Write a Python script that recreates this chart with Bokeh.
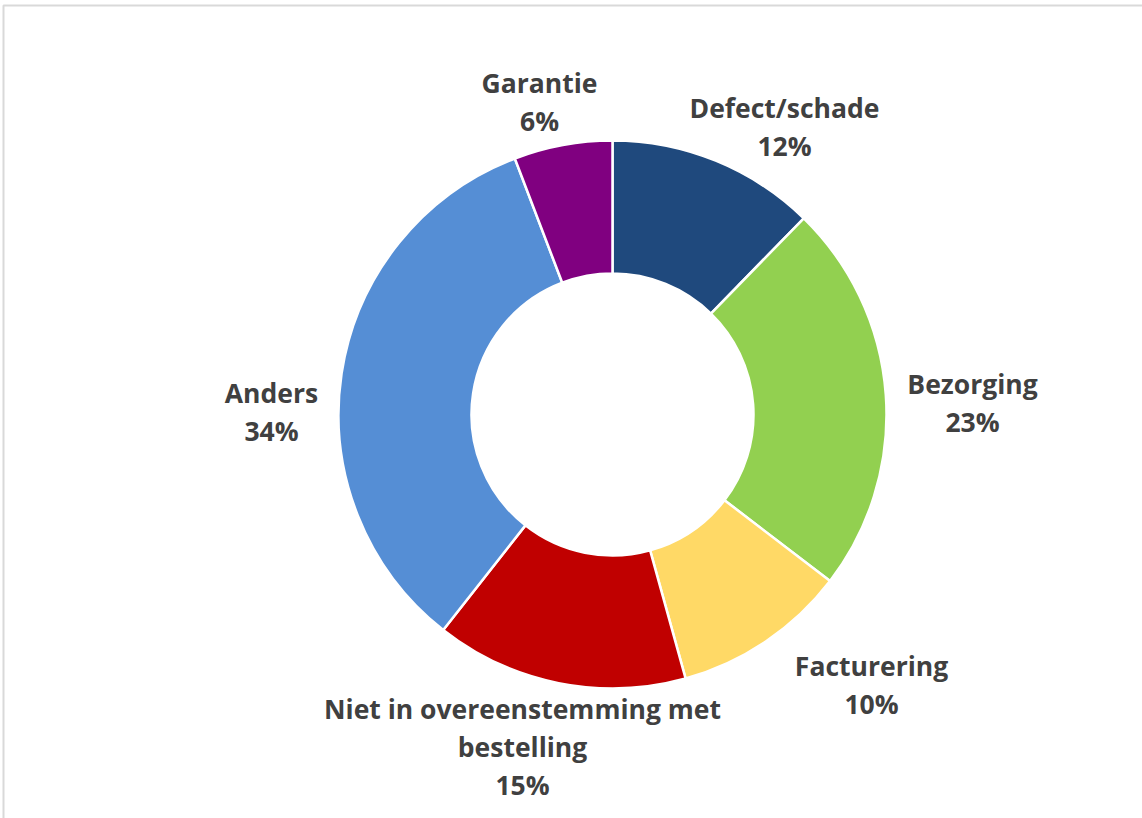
import math
from bokeh.plotting import figure
from bokeh.models import Range1d, ColumnDataSource
from bokeh.core.properties import value
from bokeh.embed import file_html
from bokeh.resources import INLINE

# ---- data ----
categories = ["Defect/schade", "Bezorging", "Facturering",
              "Niet in overeenstemming met\nbestelling", "Anders", "Garantie"]
shares = [12.3, 23.1, 10.3, 14.9, 33.6, 5.8]
pct_labels = ["12%", "23%", "10%", "15%", "34%", "6%"]
colors = ["#1F497D", "#92D050", "#FFD966", "#C00000", "#558ED5", "#800080"]

# ---- layout ----
W, H = 1142, 818
CX, CY = 612, H - 414
R_OUT, R_IN = 274, 141
# label anchor (pixel x, pixel y of first line centre) chosen as in the original
label_pos = [(784, 107), (972, 383), (871, 665), (522, 708), (271, 392), (539, 82)]
LINE_H = 38

total = sum(shares)
starts, ends = [], []
cum = 0.0
for s in shares:
    a0 = math.pi / 2 - 2 * math.pi * cum / total
    cum += s
    a1 = math.pi / 2 - 2 * math.pi * cum / total
    starts.append(a0)
    ends.append(a1)

p = figure(width=W, height=H, output_backend="svg", toolbar_location=None,
           x_range=Range1d(0, W), y_range=Range1d(0, H),
           min_border=0, min_border_left=0, min_border_right=0,
           min_border_top=0, min_border_bottom=0)
p.axis.visible = False
p.xgrid.visible = False
p.ygrid.visible = False
p.outline_line_color = None
p.background_fill_color = "white"
p.border_fill_color = "white"

# chart-area frame (only left and top edges are inside the window)
p.line(x=[3, 3, W + 10], y=[-10, H - 5, H - 5], line_color="#D9D9D9", line_width=2)

src = ColumnDataSource(dict(start=starts, end=ends, color=colors, cat=categories))
p.annular_wedge(x=CX, y=CY, inner_radius=R_IN, outer_radius=R_OUT,
                start_angle="start", end_angle="end", direction="clock",
                fill_color="color", line_color="white", line_width=2.5, source=src)

xs, ys, txt = [], [], []
for cat, pct, (lx, ly) in zip(categories, pct_labels, label_pos):
    lines = cat.split("\n") + [pct]
    for i, t in enumerate(lines):
        xs.append(lx)
        ys.append(H - (ly + i * LINE_H))
        txt.append(t)

p.text(x=xs, y=ys, text=txt, text_align="center", text_baseline="middle",
       text_font=value("Open Sans"), text_font_style="bold",
       text_font_size="26.5px", text_color="#404040")

open("out.html", "w").write(file_html(p, INLINE))
